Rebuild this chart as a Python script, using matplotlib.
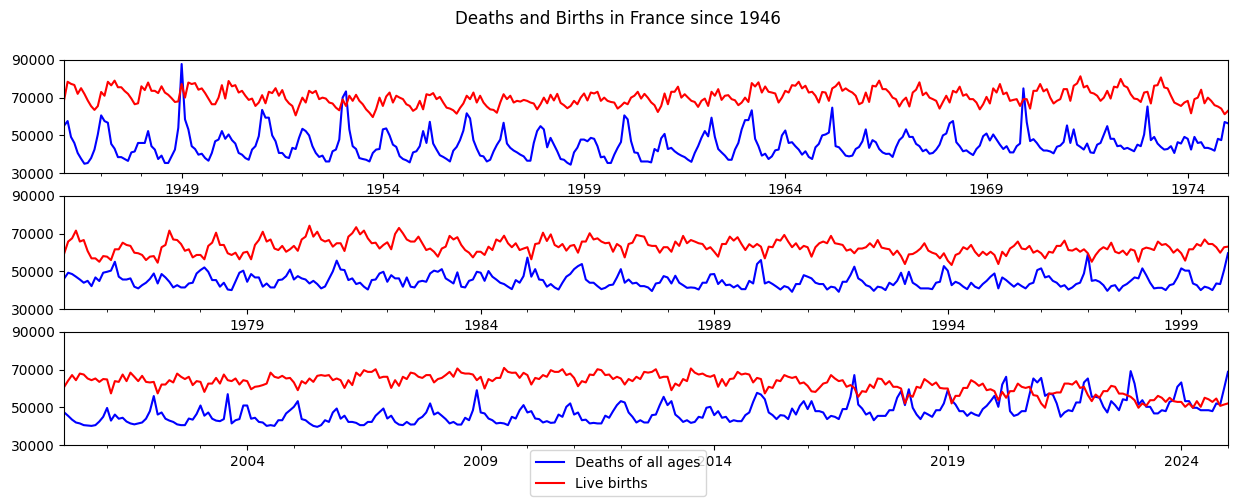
import numpy as np
import pandas as pd
import matplotlib
matplotlib.use("Agg")
import matplotlib.pyplot as plt

# monthly counts in thousands
# panel 1: 1946-02 .. 1975-01
deaths_1 = [
    55.3, 57.6, 49.2, 46.0, 40.7, 37.7, 35.0, 35.4, 38.0, 42.5, 50.5,  # 1946
    60.6, 57.6, 56.7, 45.5, 43.0, 38.5, 38.5, 37.5, 36.5, 41.0, 41.5, 46.0,
    46.0, 46.0, 52.3, 44.3, 42.5, 37.5, 39.3, 35.4, 35.4, 38.9, 42.5, 54.0,
    87.8, 58.5, 53.2, 44.3, 42.8, 39.8, 40.3, 38.0, 36.6, 40.7, 46.9, 47.8,  # 1949
    52.3, 48.2, 50.5, 47.5, 45.7, 40.7, 39.8, 38.0, 37.1, 42.5, 44.3, 49.6,
    63.5, 59.4, 59.4, 50.0, 46.9, 40.7, 40.7, 38.6, 38.0, 43.4, 42.8, 48.7,
    53.5, 52.3, 50.0, 44.3, 40.7, 38.6, 39.3, 36.2, 36.2, 41.6, 42.5, 47.8,
    70.0, 73.3, 53.2, 44.3, 42.8, 38.0, 37.5, 37.1, 36.2, 40.7, 42.5, 42.8,
    53.2, 53.7, 50.0, 45.1, 43.9, 39.0, 37.5, 36.8, 35.7, 41.0, 41.6, 44.3,  # 1954
    52.3, 46.0, 57.2, 45.7, 42.5, 39.5, 38.6, 37.5, 36.2, 41.9, 43.9, 47.5,
    52.5, 61.7, 59.0, 47.5, 43.0, 39.3, 38.9, 36.2, 37.1, 41.5, 45.0, 47.8,
    56.7, 45.7, 43.4, 42.0, 41.0, 39.8, 38.9, 36.6, 36.6, 46.0, 52.3, 54.9,
    53.2, 43.7, 48.7, 45.1, 41.6, 37.5, 37.1, 35.5, 34.5, 41.0, 43.5, 47.8,
    47.8, 46.9, 48.7, 48.2, 44.3, 38.4, 38.8, 35.4, 35.4, 39.8, 43.4, 46.5,  # 1959
    60.6, 58.5, 47.0, 41.0, 40.7, 36.2, 36.2, 36.2, 35.7, 42.8, 41.6, 48.5,
    50.8, 42.8, 43.4, 41.6, 40.3, 39.3, 38.5, 37.1, 36.0, 40.7, 44.3, 48.7,
    52.3, 49.5, 59.4, 49.2, 42.8, 41.0, 39.3, 37.1, 37.1, 42.5, 46.0, 53.2,
    58.1, 58.1, 63.3, 48.2, 44.3, 39.3, 40.3, 37.5, 38.9, 42.1, 42.5, 50.0,
    52.6, 46.0, 46.4, 44.3, 42.5, 39.8, 41.6, 38.6, 37.5, 43.7, 45.5, 50.0,  # 1964
    50.5, 51.5, 64.7, 44.3, 43.7, 41.6, 39.3, 38.9, 39.3, 42.8, 43.9, 46.9,
    53.2, 43.4, 47.5, 46.4, 42.8, 41.0, 40.2, 40.3, 38.6, 43.7, 47.5, 49.2,
    53.2, 49.2, 49.2, 45.5, 44.3, 41.6, 42.5, 40.3, 40.7, 42.5, 45.1, 50.0,
    51.0, 56.4, 57.6, 46.4, 44.3, 41.6, 42.1, 40.7, 39.6, 42.8, 44.6, 49.6,
    51.0, 47.3, 50.5, 47.8, 45.1, 42.8, 44.3, 41.0, 41.0, 44.3, 45.7, 74.9,  # 1969
    57.0, 47.0, 48.0, 46.0, 43.5, 42.0, 42.0, 41.5, 40.5, 44.0, 44.6, 46.5,
    55.3, 46.0, 53.2, 45.1, 43.9, 42.5, 45.7, 41.0, 40.7, 45.1, 46.0, 50.5,
    54.9, 48.2, 48.2, 44.3, 44.6, 42.8, 43.4, 42.5, 41.6, 45.1, 44.3, 50.5,
    65.3, 47.5, 49.2, 45.7, 43.9, 42.5, 42.8, 44.3, 40.7, 46.4, 45.7, 49.2,
    48.2, 42.5, 49.2, 46.0, 46.4, 43.4, 43.4, 42.8, 41.9, 48.2, 47.5, 57.1,  # 1974
    56.4,
]
births_1 = [
    69.2, 78.4, 77.3, 76.7, 72.0, 75.0, 72.0, 68.5, 65.5, 63.5, 65.5,  # 1946
    73.0, 71.0, 78.4, 76.5, 79.0, 75.5, 75.5, 73.5, 72.0, 69.5, 66.5, 67.0,
    76.0, 74.0, 78.0, 73.6, 73.6, 72.4, 76.0, 72.7, 71.5, 69.7, 67.7, 68.0,
    77.2, 70.0, 78.0, 77.2, 77.7, 74.2, 74.9, 72.4, 69.5, 66.5, 66.5, 70.0,  # 1949
    76.6, 69.5, 78.8, 76.0, 76.6, 72.7, 73.6, 71.0, 68.8, 69.5, 65.6, 67.4,
    71.3, 67.0, 73.1, 72.4, 75.0, 71.0, 74.0, 69.2, 67.0, 65.6, 60.6, 65.6,
    70.0, 67.4, 73.6, 72.4, 73.6, 69.2, 70.0, 69.5, 67.4, 66.9, 64.7, 63.3,
    69.0, 65.6, 71.0, 68.3, 71.5, 68.3, 66.5, 63.8, 62.0, 59.7, 64.0, 70.0,
    65.6, 70.6, 72.7, 67.4, 71.0, 70.0, 69.2, 66.5, 65.6, 63.0, 64.2, 68.3,  # 1954
    63.8, 71.8, 71.3, 72.4, 69.2, 70.4, 67.4, 64.7, 64.2, 63.3, 61.5, 64.5,
    66.9, 71.0, 69.2, 72.7, 67.4, 71.0, 67.4, 65.3, 63.8, 63.5, 62.0, 67.4,
    71.8, 69.2, 71.0, 67.4, 68.3, 67.9, 68.8, 68.3, 67.4, 66.9, 63.8, 66.5,
    70.0, 67.0, 71.5, 68.5, 72.0, 67.2, 66.0, 64.4, 65.6, 68.3, 66.5, 70.0,
    72.2, 68.5, 72.7, 72.2, 73.1, 68.3, 70.0, 68.3, 67.7, 67.4, 64.2, 65.6,  # 1959
    67.4, 66.5, 70.0, 71.0, 73.1, 69.5, 72.0, 70.0, 67.5, 66.0, 62.4, 65.6,
    72.2, 66.5, 73.1, 73.1, 75.8, 70.0, 71.8, 70.0, 68.3, 67.7, 65.1, 68.3,
    69.5, 65.6, 73.1, 71.0, 74.5, 68.8, 71.0, 71.3, 69.2, 68.6, 66.0, 67.4,
    70.0, 67.7, 77.7, 75.9, 78.1, 72.7, 75.9, 73.1, 72.7, 72.2, 67.4, 70.0,
    73.6, 72.7, 76.6, 76.3, 78.4, 74.9, 76.3, 72.7, 73.1, 71.0, 67.4, 73.0,  # 1964
    72.7, 68.3, 74.9, 76.0, 78.1, 73.6, 74.9, 73.6, 72.7, 71.0, 66.5, 67.4,
    72.7, 67.7, 76.3, 75.9, 79.0, 74.5, 74.5, 72.7, 70.0, 69.2, 65.3, 68.3,
    70.0, 65.3, 72.7, 74.2, 78.1, 71.3, 72.7, 70.0, 69.2, 68.3, 64.2, 67.7,
    71.0, 67.4, 73.6, 72.7, 75.8, 71.0, 71.8, 69.2, 69.2, 67.4, 63.8, 66.5,
    70.4, 66.9, 74.9, 72.7, 77.2, 71.8, 72.7, 68.3, 68.8, 69.2, 65.6, 69.2,  # 1969
    69.2, 64.2, 73.6, 73.6, 77.2, 73.3, 74.5, 70.0, 66.9, 68.3, 69.2, 74.5,
    74.5, 68.3, 76.3, 77.5, 81.3, 75.4, 76.3, 72.7, 72.2, 71.0, 68.3, 70.0,
    73.6, 69.5, 75.8, 75.4, 79.9, 76.3, 75.4, 71.8, 69.5, 69.2, 67.7, 72.7,
    73.1, 66.9, 76.3, 76.6, 80.7, 75.4, 74.9, 71.0, 67.4, 66.5, 65.6, 67.4,
    68.3, 61.7, 69.2, 70.0, 74.2, 67.0, 70.0, 68.3, 66.0, 65.3, 64.2, 61.2,  # 1974
    63.0,
]

# panel 2: 1975-02 .. 2000-01
deaths_2 = [
    46.3, 49.3, 48.6, 47.2, 45.7, 44.0, 45.0, 42.2, 46.8, 44.9,
    49.3, 49.8, 50.4, 55.1, 47.2, 45.7, 45.7, 46.3, 41.9, 41.0,
    42.7, 44.0, 46.0, 48.9, 43.6, 48.6, 46.8, 44.5, 41.5, 42.7,
    41.5, 41.5, 43.6, 44.0, 48.9, 50.7, 52.1, 49.8, 45.4, 45.4,
    41.9, 44.0, 40.4, 40.1, 44.7, 49.3, 50.4, 44.5, 48.6, 46.8,
    46.8, 41.9, 43.6, 41.5, 41.5, 45.4, 45.7, 47.5, 51.0, 45.7,
    47.5, 46.3, 45.7, 43.6, 45.0, 43.3, 41.0, 42.0, 46.0, 50.0,
    55.7, 51.0, 50.7, 45.4, 46.3, 43.3, 44.0, 41.9, 40.4, 45.4,
    45.7, 48.9, 49.8, 44.5, 48.0, 46.3, 46.3, 41.9, 46.8, 41.9,
    41.5, 44.5, 45.0,
    44.5, 48.9, 50.4, 49.8, 51.2, 46.3, 45.0, 43.6, 49.5, 41.9,
    41.5, 45.0, 45.7, 49.8, 49.3, 45.0, 50.2, 47.2, 45.7, 44.0,
    43.3, 41.9, 40.6, 45.4, 44.0, 47.5, 57.3, 47.2, 51.2, 45.7,
    45.4, 41.9, 43.3, 41.5, 40.4, 44.0, 47.2, 48.6, 51.2, 52.8,
    53.9, 45.7, 44.0, 44.0, 42.2, 40.6, 41.3, 42.7, 43.0, 46.8,
    51.2, 44.0, 45.7, 43.6, 44.0, 42.2, 42.2, 41.5, 39.6, 43.6,
    44.0, 47.5, 46.8, 43.6, 47.7, 44.0, 42.7, 41.3, 41.5, 41.3,
    40.4, 44.0, 44.0, 48.4, 48.6, 43.3, 45.4, 42.7, 43.0, 41.5,
    42.7, 40.6, 40.6, 45.0, 43.6, 53.9, 56.0, 43.6, 44.5, 43.3,
    41.9, 40.4, 42.2, 41.5, 39.2, 43.3, 43.3, 48.0, 47.2, 46.3,
    44.0, 43.3, 43.3, 40.4, 41.9, 41.5, 39.2, 44.5, 44.5, 48.0,
    52.5, 46.3, 45.0, 42.7, 41.9, 39.7, 41.9, 41.5, 40.1, 44.0,
    42.7, 45.0, 49.3, 43.3, 49.8, 44.0, 42.7, 41.0, 41.0, 41.0,
    40.6, 44.0, 44.5, 52.8, 50.4, 42.7, 44.5, 43.6, 41.9, 40.6,
    44.0, 41.9, 41.0, 43.3, 45.0, 47.2, 48.9, 41.0, 46.8, 45.4,
    43.6, 41.9, 43.6, 42.2, 41.0, 43.3, 44.0, 50.7, 51.6, 46.8,
    47.5, 45.0, 44.0, 41.9, 42.7, 40.4, 41.5, 43.3, 44.0, 48.9,
    59.2, 45.0, 45.4, 44.5, 42.7, 39.7, 42.2, 42.7, 39.7, 42.2,
    43.3, 45.0, 46.8, 46.3, 51.6, 48.0, 44.0, 41.0, 41.3, 41.3,
    40.1, 42.7, 43.3, 46.8, 51.6, 50.4, 50.4, 43.6, 42.7, 40.1,
    41.9, 41.3, 40.1, 43.6, 43.3, 50.7, 59.6,
]
births_2 = [
    59.6, 65.8, 67.5, 71.6, 65.8, 66.6, 60.8, 56.9, 56.9, 55.1,
    58.1, 57.8, 56.0, 61.7, 61.7, 65.2, 64.0, 63.5, 59.9, 59.6,
    58.7, 56.0, 57.8, 58.1, 54.6, 62.8, 64.0, 71.6, 66.9, 66.6,
    64.5, 60.9, 61.7, 57.4, 58.7, 58.7, 56.4, 63.5, 65.2, 70.5,
    64.0, 64.0, 59.6, 58.7, 59.9, 56.4, 59.9, 60.4, 56.4, 64.0,
    66.6, 71.0, 65.8, 66.9, 62.1, 61.3, 63.5, 60.4, 61.7, 63.5,
    60.9, 66.9, 68.4, 74.2, 68.4, 71.0, 66.9, 65.8, 66.6, 63.1,
    64.9, 64.9, 60.8, 68.4, 70.2, 73.4, 69.6, 71.6, 67.5, 64.9,
    65.2, 62.1, 64.0, 65.4, 61.7, 69.8, 73.0, 70.2, 66.9, 65.8,
    65.8, 68.4, 64.9,
    61.3, 62.1, 60.4, 57.8, 62.1, 63.1, 68.8, 66.9, 68.1, 64.0,
    61.3, 59.9, 57.4, 60.4, 60.4, 58.7, 63.1, 61.3, 66.9, 65.8,
    68.9, 64.9, 62.8, 64.9, 61.3, 62.1, 62.8, 56.4, 64.5, 64.9,
    70.5, 66.1, 69.6, 64.0, 62.8, 64.5, 61.0, 63.5, 64.0, 59.9,
    65.8, 65.8, 70.2, 66.9, 67.5, 65.8, 64.9, 65.2, 60.4, 64.5,
    63.1, 57.4, 64.5, 65.2, 69.3, 68.8, 68.4, 64.0, 63.5, 63.5,
    59.9, 62.8, 62.8, 60.4, 65.8, 63.5, 68.8, 64.9, 66.6, 65.8,
    64.9, 64.5, 61.7, 62.8, 60.4, 57.8, 64.5, 64.5, 68.4, 66.3,
    68.1, 64.5, 61.3, 64.4, 62.8, 64.5, 63.1, 56.9, 63.1, 62.8,
    66.9, 66.3, 69.3, 65.8, 62.8, 64.9, 61.7, 63.5, 62.8, 57.8,
    62.8, 64.9, 65.8, 64.9, 68.8, 64.9, 64.5, 64.0, 61.0, 61.7,
    59.6, 62.1, 62.1, 62.8, 64.9, 62.8, 66.6, 62.6, 62.1, 61.7,
    58.7, 61.0, 58.1, 53.9, 59.0, 59.2, 60.4, 62.1, 64.9, 61.0,
    59.9, 59.2, 56.9, 59.6, 55.7, 53.4, 58.7, 59.6, 62.8, 61.7,
    64.0, 60.4, 58.1, 60.4, 58.7, 60.4, 58.7, 53.9, 60.4, 58.1,
    62.1, 63.5, 65.8, 62.1, 61.7, 63.5, 59.9, 61.0, 59.6, 56.9,
    60.4, 59.9, 63.5, 63.5, 66.3, 61.3, 61.0, 62.1, 60.4, 61.7,
    59.6, 55.1, 58.7, 61.3, 62.8, 61.7, 65.2, 60.4, 59.6, 61.0,
    58.7, 61.7, 61.0, 55.1, 61.7, 62.6, 62.1, 61.3, 65.8, 64.0,
    64.5, 62.8, 59.9, 61.7, 59.6, 55.7, 61.7, 61.7, 64.5, 63.5,
    66.9, 64.5, 64.5, 62.8, 59.9, 62.8, 63.1,
]

# panel 3: 2000-02 .. 2025-01
deaths_3 = [
    47.3, 45.5, 43.5, 42.0, 41.5, 40.6, 40.4, 40.2, 40.6, 42.5,
    45.0, 49.7, 43.0, 46.2, 44.0, 44.5, 42.5, 41.5, 41.0, 41.5,
    42.0, 44.0, 48.0, 56.0, 46.2, 47.3, 44.0, 43.0, 42.3, 41.0,
    40.6, 40.6, 44.1, 43.5, 46.5, 51.0, 45.6, 47.3, 44.0, 43.0,
    42.7, 43.8, 57.0, 41.5, 43.2, 43.8, 51.0, 51.0, 44.0, 44.5,
    42.3, 42.0, 40.2, 40.6, 40.2, 43.2, 43.2, 46.8, 48.5, 50.3,
    53.3, 43.8, 43.2, 41.5, 40.2, 39.7, 40.6, 43.2, 42.3, 47.3,
    49.4, 44.0, 45.6, 42.3, 42.3, 41.8, 40.6, 40.6, 42.3, 42.3,
    45.6, 47.5, 49.4, 44.1, 45.6, 42.3, 40.9, 40.6, 42.3, 40.9,
    41.0, 43.8,
    45.0, 47.3, 52.1, 46.2, 47.3, 45.6, 43.8, 41.5, 42.3, 40.9,
    40.9, 44.5, 43.2, 48.5, 59.1, 47.3, 46.8, 44.1, 43.2, 41.5,
    41.8, 41.5, 40.6, 45.0, 44.1, 48.5, 51.2, 47.3, 48.0, 44.1,
    43.8, 42.0, 42.7, 41.8, 42.0, 46.2, 45.0, 50.3, 52.1, 46.2,
    47.3, 43.2, 43.5, 41.5, 41.8, 41.5, 41.5, 45.6, 44.5, 48.0,
    51.2, 53.3, 52.6, 47.3, 45.0, 42.0, 43.2, 42.0, 42.0, 45.9,
    46.2, 51.2, 55.6, 51.2, 53.3, 46.2, 44.5, 42.3, 43.2, 41.8,
    42.3, 45.0, 44.5, 49.8, 50.3, 45.9, 48.0, 44.5, 45.0, 42.3,
    43.2, 42.7, 42.7, 45.9, 47.3, 52.9, 57.7, 56.8, 54.3, 47.3,
    45.9, 43.8, 45.9, 45.6, 43.8, 49.4, 46.2, 50.8, 53.3, 49.1,
    53.3, 48.0, 48.0,
    47.3, 43.8, 45.5, 45.0, 43.8, 49.1, 49.1, 55.6, 67.1, 51.5,
    49.4, 46.2, 47.3, 43.2, 45.5, 45.5, 45.5, 48.5, 48.5, 55.1,
    58.6, 51.2, 59.6, 49.8, 46.2, 43.8, 47.3, 46.2, 45.0, 48.5,
    48.5, 52.1, 59.1, 53.8, 51.5, 48.0, 48.0, 45.5, 47.3, 46.2,
    45.5, 49.1, 50.8, 53.3, 56.1, 50.3, 62.1, 66.2, 48.0, 45.5,
    46.2, 48.0, 48.0, 56.8, 65.3, 63.2, 65.6, 56.1, 57.3, 56.8,
    52.1, 45.0, 47.3, 48.5, 48.0, 52.6, 52.6, 63.2, 65.3, 55.6,
    55.6, 55.1, 50.3, 47.3, 53.3, 51.2, 48.5, 54.3, 53.8, 69.2,
    62.6, 51.5, 53.8, 50.3, 50.3, 46.8, 46.8, 48.5, 48.0, 52.9,
    53.8, 60.9, 63.2, 53.3, 53.3, 49.8, 49.8, 48.5, 48.5, 48.5,
    48.0, 52.1, 51.5, 60.0, 68.8,
]
births_3 = [
    60.9, 64.2, 67.1, 64.4, 67.9, 67.4, 65.3, 64.4, 65.3, 63.5,
    65.0, 64.8, 57.4, 63.9, 63.5, 67.4, 63.9, 68.4, 66.2, 63.9,
    66.7, 63.5, 63.2, 63.5, 57.4, 62.1, 62.1, 64.4, 63.2, 67.9,
    66.2, 65.0, 66.2, 61.8, 63.9, 63.5, 58.2, 62.6, 62.6, 65.6,
    62.6, 67.4, 64.4, 63.9, 65.3, 62.1, 64.4, 63.9, 59.6, 60.9,
    61.2, 61.8, 62.6, 68.4, 66.2, 65.6, 66.7, 65.3, 65.6, 63.2,
    59.1, 63.9, 62.6, 65.3, 63.5, 66.7, 67.1, 66.7, 67.1, 64.4,
    65.3, 64.4, 60.3, 64.4, 61.8, 68.4, 66.7, 69.7, 68.8, 68.8,
    70.2, 65.6, 66.2, 66.2, 60.3, 64.4, 61.4, 66.2, 65.0, 68.4,
    67.9, 66.2,
    65.6, 67.1, 67.1, 63.2, 65.0, 65.6, 67.1, 68.8, 66.2, 70.6,
    68.4, 67.9, 67.9, 67.4, 64.4, 66.2, 60.0, 65.0, 63.9, 65.6,
    65.6, 70.9, 68.8, 68.3, 68.4, 65.6, 68.3, 67.1, 62.1, 65.6,
    65.0, 67.1, 66.2, 69.7, 68.8, 68.8, 70.2, 67.1, 67.9, 65.6,
    61.2, 63.9, 63.2, 67.4, 67.1, 70.2, 69.7, 67.1, 67.4, 65.0,
    66.2, 65.3, 62.1, 65.0, 63.9, 66.2, 65.0, 68.8, 68.4, 68.8,
    70.2, 65.6, 66.2, 66.2, 59.1, 62.6, 61.4, 65.0, 63.9, 70.6,
    68.4, 67.4, 67.9, 66.7, 66.2, 67.1, 60.9, 65.0, 61.4, 65.0,
    65.3, 68.8, 67.4, 67.9, 67.4, 63.2, 65.6, 65.0, 57.4, 60.9,
    60.3, 64.4, 63.9, 67.1, 66.2, 65.6, 66.2, 62.6, 63.2, 61.4,
    58.5,
    58.2, 60.3, 62.6, 63.2, 67.1, 65.3, 63.9, 64.4, 60.9, 61.8,
    60.3, 55.6, 58.6, 58.2, 62.1, 60.3, 65.3, 65.0, 62.1, 63.9,
    60.9, 60.9, 60.0, 52.1, 56.8, 55.6, 60.9, 60.3, 65.0, 63.5,
    61.8, 63.2, 60.3, 60.0, 60.0, 52.1, 56.1, 56.1, 60.3, 60.3,
    64.4, 63.2, 61.4, 62.6, 59.1, 59.6, 58.6, 53.8, 58.2, 55.1,
    58.6, 58.6, 62.6, 60.9, 60.3, 60.9, 56.5, 56.1, 52.1, 49.8,
    57.3, 57.3, 57.9, 57.9, 62.6, 62.6, 62.1, 63.9, 60.3, 60.9,
    56.5, 53.3, 56.8, 55.1, 58.6, 58.6, 61.4, 60.9, 57.3, 57.3,
    56.5, 55.6, 53.8, 49.8, 52.1, 50.8, 53.8, 53.8, 56.1, 55.1,
    52.9, 55.1, 53.3, 52.9, 52.9, 50.3, 52.1, 49.8, 53.3, 50.3,
    55.1, 54.3, 52.9, 54.7, 50.8, 51.5, 52.1,
]

panels = [
    ("1946-02", deaths_1, births_1),
    ("1975-02", deaths_2, births_2),
    ("2000-02", deaths_3, births_3),
]

fig, axes = plt.subplots(3, 1, figsize=(12.36, 5.03))
fig.subplots_adjust(left=0.052, right=0.9935, top=0.881, bottom=0.115, hspace=0.2)

for ax, (start, deaths, births) in zip(axes, panels):
    months = pd.period_range(start, periods=len(deaths), freq="M")
    df = pd.DataFrame({"Deaths of all ages": np.array(deaths) * 1000,
                       "Live births": np.array(births) * 1000}, index=months)
    df.plot(ax=ax, color=["blue", "red"], legend=False)
    ax.set_ylim(30000, 90000)
    ax.set_yticks([30000, 50000, 70000, 90000])
    ax.set_xlabel("")

handles, labels = axes[0].get_legend_handles_labels()
fig.legend(handles, labels, loc="lower center")
fig.suptitle("Deaths and Births in France since 1946")
fig.savefig("out.png", dpi=100)
